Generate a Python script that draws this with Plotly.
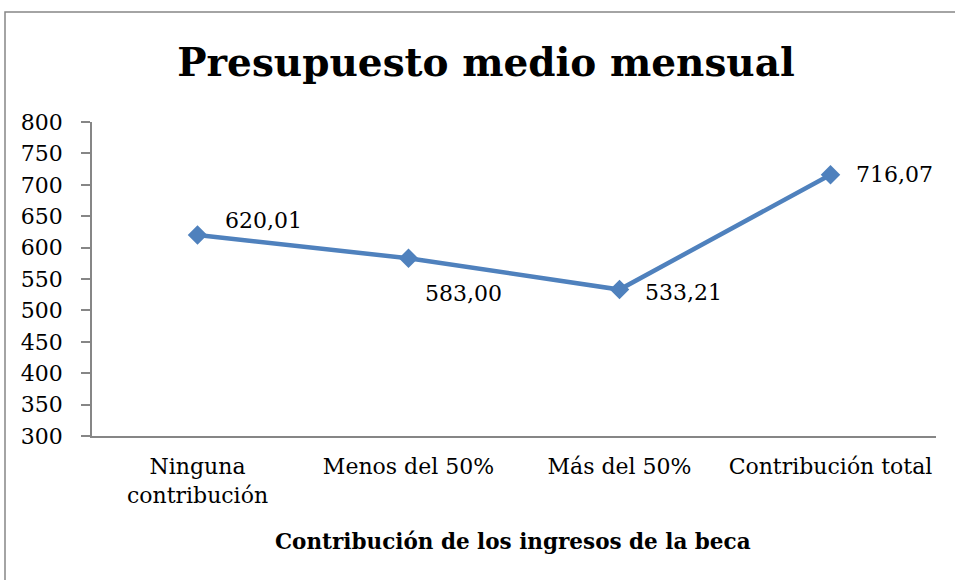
import plotly.graph_objects as go

categories = ["Ninguna<br>contribución", "Menos del 50%", "Más del 50%", "Contribución total"]
values = [620.01, 583.00, 533.21, 716.07]
value_labels = ["620,01", "583,00", "533,21", "716,07"]
y_ticks = [300, 350, 400, 450, 500, 550, 600, 650, 700, 750, 800]

title_text = "Presupuesto medio mensual"
x_title_text = "Contribución de los ingresos de la beca"

FONT = "DejaVu Serif"
BLUE = "#4F81BD"
GRAY = "#868686"

W, H = 955, 580
L, R, T, B = 92, 19, 122, 144
PW = W - L - R
PH = H - T - B

fig = go.Figure()
fig.add_trace(go.Scatter(
    x=list(range(len(categories))), y=values, mode="lines+markers",
    line=dict(color=BLUE, width=4.5),
    marker=dict(symbol="diamond", size=15, color=BLUE),
    showlegend=False, hoverinfo="skip",
))

# data labels (offsets in pixels relative to each point)
offsets = [(66, 15), (55, -35), (64, -3), (64, 0)]
for i, (v, lab) in enumerate(zip(values, value_labels)):
    dx, dy = offsets[i]
    fig.add_annotation(x=i, y=v, text=lab, showarrow=False, xshift=dx, yshift=dy,
                       font=dict(family=FONT, size=22, color="black"))

fig.update_layout(
    width=W, height=H,
    margin=dict(l=L, r=R, t=T, b=B),
    paper_bgcolor="white", plot_bgcolor="white",
    title=dict(text=title_text, x=486/W, xanchor="center", y=1-62/H, yanchor="middle",
               yref="container", xref="container",
               font=dict(family=FONT, size=39, color="black", weight="bold")),
    xaxis=dict(tickmode="array", tickvals=list(range(len(categories))), ticktext=categories,
               range=[-0.5, 3.5], showline=True, linecolor=GRAY, linewidth=1.5,
               ticks="", showgrid=False, zeroline=False,
               tickfont=dict(family=FONT, size=22, color="black"), ticklabelstandoff=10),
    yaxis=dict(range=[300, 800], tickmode="array", tickvals=y_ticks,
               showline=True, linecolor=GRAY, linewidth=1.5,
               ticks="outside", ticklen=9, tickcolor=GRAY, tickwidth=1.5,
               showgrid=False, zeroline=False,
               tickfont=dict(family=FONT, size=22, color="black"), ticklabelstandoff=14),
)

fig.add_annotation(xref="paper", yref="paper", x=(513-L)/PW, y=(436-541)/PH,
                   text=x_title_text, showarrow=False, yanchor="middle", xanchor="center",
                   font=dict(family=FONT, size=21.5, color="black", weight="bold"))

# outer chart border
fig.add_shape(type="rect", xref="paper", yref="paper",
              x0=(5-L)/PW, x1=(1000-L)/PW, y0=(436-620)/PH, y1=(436-12)/PH,
              line=dict(color=GRAY, width=1.5), fillcolor="rgba(0,0,0,0)", layer="below")

fig.write_html("out.html", config={"displayModeBar": False},
               post_script="document.body.style.margin='0px';")
